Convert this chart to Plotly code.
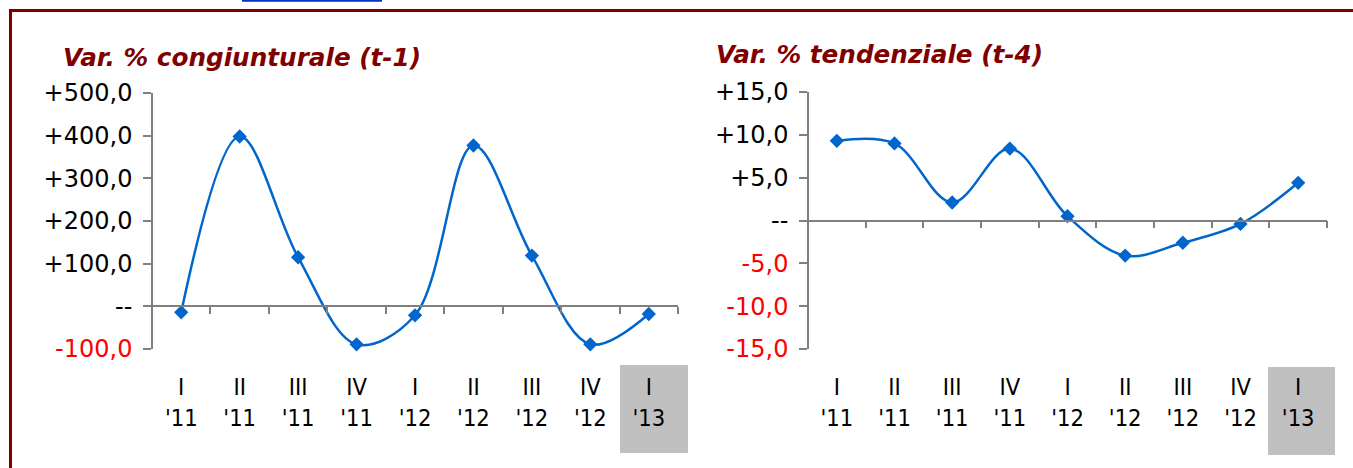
import plotly.graph_objects as go

W, H = 1353, 468

quarters = ["I", "II", "III", "IV", "I", "II", "III", "IV", "I"]
years = ["'11", "'11", "'11", "'11", "'12", "'12", "'12", "'12", "'13"]
categories = [f"{q}<br>{y}" for q, y in zip(quarters, years)]

cong_values = [-14, 398, 115, -89, -21, 377, 119, -89, -18]
tend_values = [9.3, 9.0, 2.1, 8.4, 0.5, -4.1, -2.6, -0.4, 4.4]

left_tickvals = [-100, 0, 100, 200, 300, 400, 500]
left_ticktext = ["<span style='color:#FF0000'>-100,0</span>", "--", "+100,0", "+200,0",
                 "+300,0", "+400,0", "+500,0"]
right_tickvals = [-15, -10, -5, 0, 5, 10, 15]
right_ticktext = ["<span style='color:#FF0000'>-15,0</span>",
                  "<span style='color:#FF0000'>-10,0</span>",
                  "<span style='color:#FF0000'>-5,0</span>", "--", "+5,0", "+10,0", "+15,0"]

title_left = "Var. % congiunturale (t-1)"
title_right = "Var. % tendenziale (t-4)"

LINE = "rgb(0,102,204)"
AX = "#808080"
TITLE_C = "#800000"


def px(x):
    return x / W


def py(y):
    return 1 - y / H


fig = go.Figure()
fig.add_trace(go.Scatter(x=categories, y=cong_values, mode="lines+markers",
                         line=dict(color=LINE, width=2.5, shape="spline", smoothing=1),
                         marker=dict(symbol="diamond", size=11, color=LINE),
                         xaxis="x", yaxis="y", showlegend=False, cliponaxis=False))
fig.add_trace(go.Scatter(x=categories, y=tend_values, mode="lines+markers",
                         line=dict(color=LINE, width=2.5, shape="spline", smoothing=1),
                         marker=dict(symbol="diamond", size=11, color=LINE),
                         xaxis="x2", yaxis="y2", showlegend=False, cliponaxis=False))

ydom = [py(349), py(93)]
ydom2 = [py(349), py(92)]
zero1 = ydom[0] + (ydom[1] - ydom[0]) * (100 / 600)
zero2 = ydom2[0] + (ydom2[1] - ydom2[0]) * 0.5

xfont = dict(family="DejaVu Sans Condensed", size=23.5, color="#000000")
yfont = dict(family="DejaVu Sans", size=24, color="#000000")

common_x = dict(type="category", showline=True, linecolor=AX, linewidth=1.5,
                ticks="outside", ticklen=7, tickcolor=AX, tickwidth=1.5,
                tickson="boundaries", showgrid=False, zeroline=False, automargin=False,
                tickfont=xfont, range=[-0.5, 8.5], tickangle=0)
common_y = dict(showline=True, linecolor=AX, linewidth=1.5, ticks="outside",
                ticklen=8, tickcolor=AX, tickwidth=1.5, showgrid=False, automargin=False,
                zeroline=False, tickfont=yfont, tickmode="array",
                ticklabelstandoff=6)

fig.update_layout(
    width=W, height=H, margin=dict(l=0, r=0, t=0, b=0, autoexpand=False),
    paper_bgcolor="white", plot_bgcolor="rgba(0,0,0,0)",
    xaxis=dict(domain=[px(152), px(678)], anchor="free", position=zero1,
               ticklabelstandoff=60, **common_x),
    yaxis=dict(domain=ydom, anchor="free", position=px(152), range=[-100, 500],
               tickvals=left_tickvals, ticktext=left_ticktext, **common_y),
    xaxis2=dict(domain=[px(808), px(1327)], anchor="free", position=zero2,
                ticklabelstandoff=146, **common_x),
    yaxis2=dict(domain=ydom2, anchor="free", position=px(808), range=[-15, 15],
                tickvals=right_tickvals, ticktext=right_ticktext, **common_y),
)

shapes = [
    # highlighted last category background
    dict(type="rect", xref="paper", yref="paper", x0=px(620), x1=px(688), y0=py(453), y1=py(365),
         fillcolor="#C0C0C0", line=dict(width=0), layer="below"),
    dict(type="rect", xref="paper", yref="paper", x0=px(1268), x1=px(1335), y0=py(455), y1=py(367),
         fillcolor="#C0C0C0", line=dict(width=0), layer="below"),
    # frame
    dict(type="line", xref="paper", yref="paper", x0=px(9), x1=1, y0=py(10.5), y1=py(10.5),
         line=dict(color=TITLE_C, width=3)),
    dict(type="line", xref="paper", yref="paper", x0=px(10.5), x1=px(10.5), y0=0, y1=py(9),
         line=dict(color=TITLE_C, width=3)),
    # cut-off link underline at top
    dict(type="line", xref="paper", yref="paper", x0=px(242), x1=px(382), y0=py(0.8), y1=py(0.8),
         line=dict(color="#0033CC", width=2)),
]
fig.update_layout(shapes=shapes)

tfont = dict(family="DejaVu Sans", size=24.7, color=TITLE_C, weight="bold", style="italic")
fig.add_annotation(text=title_left, xref="paper", yref="paper", x=px(61), y=py(57),
                   xanchor="left", yanchor="middle", showarrow=False, font=tfont)
fig.add_annotation(text=title_right, xref="paper", yref="paper", x=px(714), y=py(54),
                   xanchor="left", yanchor="middle", showarrow=False, font=tfont)

fig.write_html("out.html", config={"displayModeBar": False},
               post_script="document.body.style.margin='0';")
